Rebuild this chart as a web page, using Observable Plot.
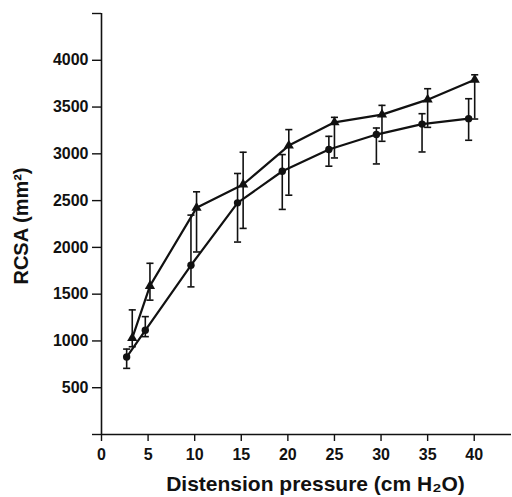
<!DOCTYPE html>
<html>
<head>
<meta charset="utf-8">
<script src="https://cdn.jsdelivr.net/npm/d3@7"></script>
<script src="https://cdn.jsdelivr.net/npm/@observablehq/plot@0.6"></script>
<style>
  html, body { margin: 0; padding: 0; background: #fff; }
  #chart svg { display: block; }
</style>
</head>
<body>
<div id="chart"></div>
<script>
// Series 1: triangles
const triX  = [3.3, 5.2, 10.2, 15.2, 20.1, 25.0, 30.1, 35.0, 40.05];
const triY  = [1031, 1588, 2423, 2672, 3088, 3337, 3419, 3579, 3792];
const triLo = [938, 1436, 1951, 2203, 2558, 2956, 3134, 3283, 3372];
const triHi = [1332, 1830, 2594, 3017, 3259, 3390, 3518, 3696, 3845];

// Series 2: circles
const cirX  = [2.7, 4.7, 9.6, 14.6, 19.4, 24.4, 29.5, 34.4, 39.4];
const cirY  = [828, 1114, 1809, 2476, 2814, 3046, 3206, 3318, 3376];
const cirLo = [707, 1046, 1578, 2057, 2406, 2868, 2892, 3020, 3145];
const cirHi = [913, 1260, 2345, 2790, 2992, 3187, 3276, 3429, 3589];

const xTicks = [0, 5, 10, 15, 20, 25, 30, 35, 40];
const yTicks = [0, 500, 1000, 1500, 2000, 2500, 3000, 3500, 4000, 4500];
const yLabelled = [500, 1000, 1500, 2000, 2500, 3000, 3500, 4000];
const xTitle = "Distension pressure (cm H\u2082O)";
const yTitle = "RCSA (mm\u00B2)";

const tri = triX.map((x, i) => ({x, y: triY[i], lo: triLo[i], hi: triHi[i]}));
const cir = cirX.map((x, i) => ({x, y: cirY[i], lo: cirLo[i], hi: cirHi[i]}));

const capSymbol = {
  draw(context, size) {
    const w = Math.sqrt(size) * 0.5;
    context.moveTo(-w, 0);
    context.lineTo(w, 0);
  }
};

const font = "'Liberation Sans', Arial, Helvetica, sans-serif";

const errMarks = (data) => [
  Plot.ruleX(data, {x: "x", y1: "lo", y2: "hi", stroke: "#111", strokeWidth: 1.6}),
  Plot.dot(data, {x: "x", y: "lo", symbol: capSymbol, r: 4, stroke: "#111", strokeWidth: 1.6, fill: "none"}),
  Plot.dot(data, {x: "x", y: "hi", symbol: capSymbol, r: 4, stroke: "#111", strokeWidth: 1.6, fill: "none"})
];

const chart = Plot.plot({
  width: 512,
  height: 497,
  marginLeft: 101,
  marginRight: 1,
  marginTop: 13,
  marginBottom: 63,
  style: {fontFamily: font, background: "#fff", color: "#111"},
  x: {domain: [0, 44], axis: null},
  y: {domain: [0, 4500], axis: null},
  marks: [
    Plot.ruleX([0], {stroke: "#111", strokeWidth: 1.6}),
    Plot.ruleY([0], {stroke: "#111", strokeWidth: 1.6}),
    Plot.axisY(yTicks, {
      tickSize: 9, tickPadding: 4, strokeWidth: 1.4, fontSize: 16, fontWeight: "bold",
      tickFormat: d => yLabelled.includes(d) ? String(d) : "",
      label: null
    }),
    Plot.axisX(xTicks, {
      tickSize: 7, tickPadding: 7, strokeWidth: 1.4, fontSize: 16, fontWeight: "bold",
      tickFormat: d => String(d),
      label: null
    }),
    ...errMarks(cir),
    ...errMarks(tri),
    Plot.line(cir, {x: "x", y: "y", stroke: "#111", strokeWidth: 2.2}),
    Plot.line(tri, {x: "x", y: "y", stroke: "#111", strokeWidth: 2.2}),
    Plot.dot(cir, {x: "x", y: "y", r: 3.7, fill: "#111", stroke: "none"}),
    Plot.dot(tri, {x: "x", y: "y", r: 3.8, symbol: "triangle", fill: "#111", stroke: "none"}),
    Plot.text([xTitle], {frameAnchor: "bottom", text: d => d, dy: 56, dx: 9, fontSize: 21, fontWeight: "bold", fill: "#111", lineAnchor: "bottom", textAnchor: "middle"}),
    Plot.text([yTitle], {frameAnchor: "left", text: d => d, dx: -80, dy: 2, rotate: -90, fontSize: 20, fontWeight: "bold", fill: "#111", textAnchor: "middle", lineAnchor: "middle"})
  ]
});
document.getElementById("chart").appendChild(chart);
</script>
</body>
</html>
